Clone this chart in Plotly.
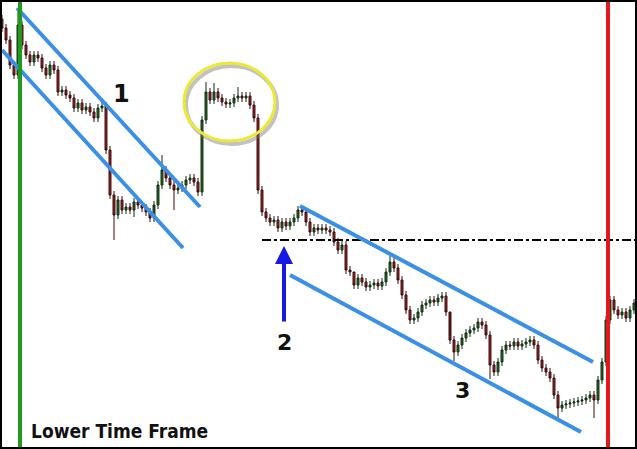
import plotly.graph_objects as go

# bar positions (time index, 4 px per bar) and closing prices
bar_x = [2 + 4 * i for i in range(159)]
close = [421, 409, 384, 374, 424, 404, 394, 387, 394, 391, 381, 374, 384, 379, 357, 359, 354, 351, 341, 346,
         339, 342, 337, 331, 341, 343, 299, 254, 234, 249, 239, 242, 239, 247, 244, 241, 237, 231, 244, 264,
         279, 271, 264, 259, 261, 264, 269, 271, 267, 257, 329, 357, 349, 357, 351, 347, 345, 346, 351, 353,
         351, 353, 344, 331, 259, 237, 231, 227, 229, 221, 227, 223, 227, 231, 239, 237, 227, 217, 221, 219,
         221, 219, 217, 207, 199, 204, 179, 177, 164, 171, 167, 162, 164, 166, 163, 167, 177, 187, 181, 169,
         154, 139, 129, 131, 137, 144, 146, 149, 147, 151, 153, 137, 109, 97, 104, 111, 116, 119, 121, 127,
         124, 114, 84, 77, 87, 99, 104, 103, 107, 103, 105, 107, 109, 104, 89, 81, 77, 71, 54, 41,
         44, 45, 46, 47, 48, 49, 51, 54, 49, 69, 87, 129, 149, 139, 134, 137, 131, 139, 146]
first_open = 430
wick = 4
spike_high = {4: 439, 40: 294, 51: 367, 53: 366, 97: 193, 112: 113, 59: 362, 88: 176}
spike_low = {28: 209, 43: 239, 139: 31, 148: 31, 122: 70, 33: 232, 113: 88}

opens = [first_open] + close[:-1]
highs = [spike_high.get(i, max(o, c) + wick) for i, (o, c) in enumerate(zip(opens, close))]
lows = [spike_low.get(i, min(o, c) - wick) for i, (o, c) in enumerate(zip(opens, close))]

# annotation geometry (in chart coordinates)
channel_lines = [
    [(17, 441), (200, 242)],
    [(2, 399), (183, 201)],
    [(300, 243), (593, 87)],
    [(290, 174), (581, 17)],
]
support_level = 209
support_start = 262
green_x = 20
red_x = 608
ellipse_box = (184, 308, 275, 386)
arrow_x, arrow_tip, arrow_tail = 284, 203, 126
labels = [("1", 121, 355, 24), ("2", 284, 107, 22), ("3", 462, 59, 22)]

fig = go.Figure()
fig.add_trace(go.Candlestick(
    x=bar_x, open=opens, high=highs, low=lows, close=close,
    increasing=dict(line=dict(color="#0f2f0f", width=1), fillcolor="#2a662a"),
    decreasing=dict(line=dict(color="#3a0a0a", width=1), fillcolor="#9e2626"),
    whiskerwidth=0, showlegend=False, hoverinfo="skip",
))

shapes = []
# support dash-dot line
shapes.append(dict(type="line", xref="x", yref="y", x0=support_start, x1=637,
                   y0=support_level, y1=support_level,
                   line=dict(color="black", width=2, dash="dashdot")))
# channel lines
for (p0, p1) in channel_lines:
    shapes.append(dict(type="line", xref="x", yref="y", x0=p0[0], y0=p0[1], x1=p1[0], y1=p1[1],
                       line=dict(color="#3a8fe8", width=4)))
# vertical lines
shapes.append(dict(type="line", xref="x", yref="paper", x0=green_x, x1=green_x, y0=0, y1=1,
                   line=dict(color="#1f9a1f", width=4)))
shapes.append(dict(type="line", xref="x", yref="paper", x0=red_x, x1=red_x, y0=0, y1=1,
                   line=dict(color="#e8161c", width=4)))
# ellipse shadow and ellipse
ex0, ey0, ex1, ey1 = ellipse_box
shapes.append(dict(type="circle", xref="x", yref="y", x0=ex0 + 2, y0=ey0 - 3, x1=ex1 + 2, y1=ey1 - 3,
                   line=dict(color="rgba(120,120,120,0.45)", width=4)))
shapes.append(dict(type="circle", xref="x", yref="y", x0=ex0, y0=ey0, x1=ex1, y1=ey1,
                   line=dict(color="#ece83a", width=3)))
# frame
shapes.append(dict(type="rect", xref="paper", yref="paper", x0=0, y0=0, x1=1, y1=1,
                   line=dict(color="black", width=4)))

annotations = []
for txt, lx, ly, fs in labels:
    annotations.append(dict(x=lx, y=ly, xref="x", yref="y", text="<b>%s</b>" % txt, showarrow=False,
                            font=dict(family="DejaVu Sans", size=fs, color="#111")))
annotations.append(dict(x=arrow_x, y=arrow_tip, ax=arrow_x, ay=arrow_tail, xref="x", yref="y",
                        axref="x", ayref="y", text="", showarrow=True, arrowhead=2,
                        arrowsize=0.9, arrowwidth=4, arrowcolor="#1717e6"))
annotations.append(dict(x=29, y=18, xref="x", yref="y", xanchor="left", text="<b>Lower Time Frame</b>",
                        showarrow=False,
                        font=dict(family="DejaVu Sans Condensed, DejaVu Sans", size=19, color="#111")))

fig.update_layout(
    width=637, height=449,
    margin=dict(l=0, r=0, t=0, b=0),
    paper_bgcolor="white", plot_bgcolor="white",
    xaxis=dict(range=[0, 637], visible=False, rangeslider=dict(visible=False), fixedrange=True),
    yaxis=dict(range=[0, 449], visible=False, fixedrange=True),
    shapes=shapes, annotations=annotations,
)

fig.write_html("out.html", config={"displayModeBar": False},
               post_script="document.body.style.margin='0';document.body.style.overflow='hidden';")
